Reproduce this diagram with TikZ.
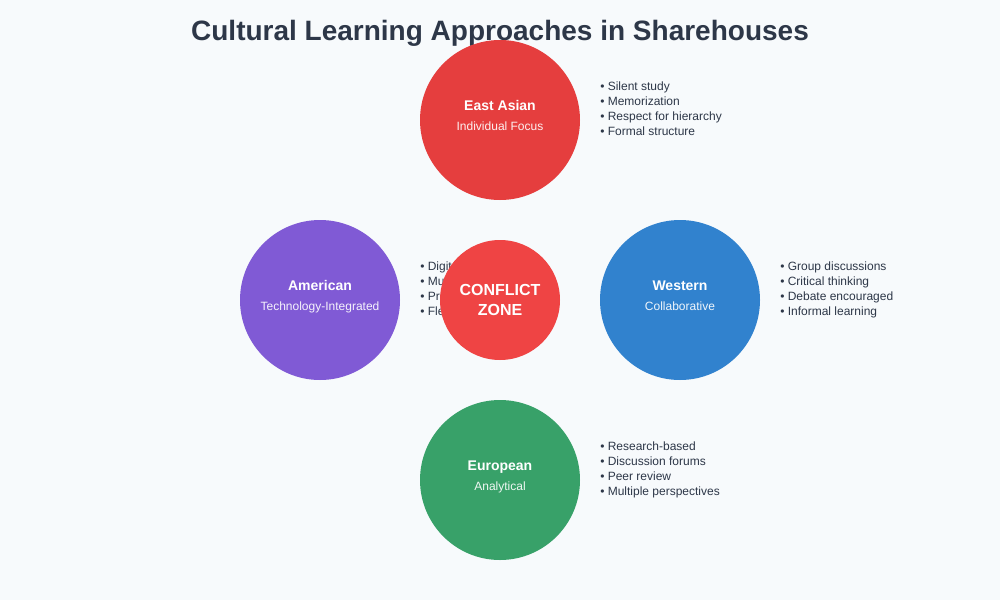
\documentclass[tikz,border=0pt]{standalone}
\usepackage{fontspec}
\setmainfont{Liberation Sans}
\definecolor{bg}{HTML}{F7FAFC}
\definecolor{ink}{HTML}{2D3748}
\definecolor{eastred}{HTML}{E53E3E}
\definecolor{conflictred}{HTML}{EF4444}
\definecolor{purp}{HTML}{805AD5}
\definecolor{blu}{HTML}{3182CE}
\definecolor{grn}{HTML}{38A169}
\begin{document}
\begin{tikzpicture}[x=0.75pt,y=-0.75pt,
  culture/.style={circle,minimum size=120pt,inner sep=0pt,draw=none},
  headlbl/.style={anchor=base,text=white,font=\fontsize{10.5}{12}\selectfont\bfseries},
  sublbl/.style={anchor=base,text=white,opacity=0.92,font=\fontsize{9}{11}\selectfont},
  item/.style={anchor=base west,text=ink,inner sep=0pt,font=\fontsize{9}{11}\selectfont}]
\fill[bg] (0,0) rectangle (1000,600);
\useasboundingbox (0,0) rectangle (1000,600);
\node[anchor=base,text=ink,font=\fontsize{21}{24}\selectfont\bfseries] (title) at (500,40) {Cultural Learning Approaches in Sharehouses};
% East Asian
\node[culture,fill=eastred] (east) at (500,120) {};
\node[headlbl] (eastH) at (500,110) {East Asian};
\node[sublbl] (eastS) at (500,130) {Individual Focus};
\node[item] (e1) at (600,90) {• Silent study};
\node[item] (e2) at (600,105) {• Memorization};
\node[item] (e3) at (600,120) {• Respect for hierarchy};
\node[item] (e4) at (600,135) {• Formal structure};
% Western
\node[culture,fill=blu] (west) at (680,300) {};
\node[headlbl] (westH) at (680,290) {Western};
\node[sublbl] (westS) at (680,310) {Collaborative};
\node[item] (w1) at (780,270) {• Group discussions};
\node[item] (w2) at (780,285) {• Critical thinking};
\node[item] (w3) at (780,300) {• Debate encouraged};
\node[item] (w4) at (780,315) {• Informal learning};
% European
\node[culture,fill=grn] (euro) at (500,480) {};
\node[headlbl] (euroH) at (500,470) {European};
\node[sublbl] (euroS) at (500,490) {Analytical};
\node[item] (u1) at (600,450) {• Research-based};
\node[item] (u2) at (600,465) {• Discussion forums};
\node[item] (u3) at (600,480) {• Peer review};
\node[item] (u4) at (600,495) {• Multiple perspectives};
% American
\node[culture,fill=purp] (amer) at (320,300) {};
\node[headlbl] (amerH) at (320,290) {American};
\node[sublbl] (amerS) at (320,310) {Technology-Integrated};
\node[item] (a1) at (420,270) {• Digital tools};
\node[item] (a2) at (420,285) {• Multimedia resources};
\node[item] (a3) at (420,300) {• Project-based};
\node[item] (a4) at (420,315) {• Flexible schedules};
% Conflict zone
\node[circle,minimum size=90pt,inner sep=0pt,fill=conflictred] (conflict) at (500,300) {};
\node[anchor=base,text=white,font=\fontsize{12}{14}\selectfont\bfseries] (c1) at (500,295) {CONFLICT};
\node[anchor=base,text=white,font=\fontsize{12}{14}\selectfont\bfseries] (c2) at (500,315) {ZONE};
\end{tikzpicture}
\end{document}
